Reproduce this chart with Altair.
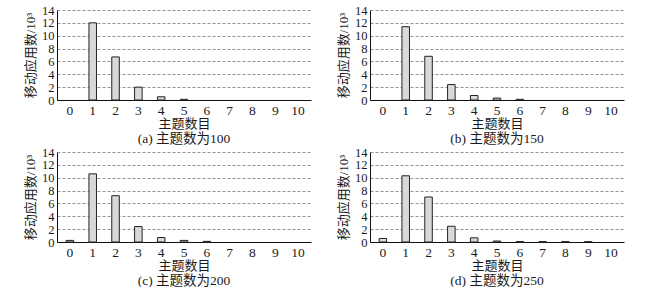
import altair as alt
import pandas as pd

topics = list(range(11))
panel_titles = ["(a) 主题数为100", "(b) 主题数为150", "(c) 主题数为200", "(d) 主题数为250"]
vals_100 = [0.0, 12.0, 6.7, 2.0, 0.5, 0.1, 0.0, 0.0, 0.0, 0.0, 0.0]
vals_150 = [0.0, 11.4, 6.8, 2.4, 0.7, 0.3, 0.1, 0.0, 0.0, 0.0, 0.0]
vals_200 = [0.25, 10.6, 7.2, 2.4, 0.7, 0.25, 0.1, 0.0, 0.0, 0.0, 0.0]
vals_250 = [0.55, 10.3, 7.0, 2.45, 0.65, 0.15, 0.05, 0.05, 0.05, 0.05, 0.0]
all_vals = [vals_100, vals_150, vals_200, vals_250]
y_ticks = [0, 2, 4, 6, 8, 10, 12, 14]

FONT = "Liberation Serif, Noto Sans CJK SC"
INK = "#1a1a1a"


def panel(title, vals):
    df = pd.DataFrame({"topic": topics, "value": vals})
    return (
        alt.Chart(df)
        .transform_filter("datum.value > 0")
        .mark_bar(fill="#d9d9d9", stroke="#222", strokeWidth=1)
        .encode(
            x=alt.X(
                "topic:O",
                title="主题数目",
                scale=alt.Scale(domain=topics, paddingInner=0.67, paddingOuter=0.4),
                axis=alt.Axis(labelAngle=0, tickSize=0, labelPadding=3,
                              titlePadding=1, domainColor="#111", grid=False,
                              labelFontSize=13.5),
            ),
            y=alt.Y(
                "value:Q",
                title="移动应用数/10³",
                scale=alt.Scale(domain=[0, 14], nice=False),
                axis=alt.Axis(values=y_ticks, tickSize=0, labelPadding=3,
                              titlePadding=4, grid=True, gridDash=[3, 2],
                              gridColor="#777", gridWidth=0.8,
                              domainColor="#111", labelOverlap=False,
                              labelFontSize=12.5),
            ),
        )
        .properties(
            width=254,
            height=90,
            title=alt.TitleParams(title, orient="bottom", fontSize=13.5,
                                  fontWeight="normal", font=FONT, color=INK,
                                  offset=1),
        )
    )


charts = [panel(t, v) for t, v in zip(panel_titles, all_vals)]

chart = (
    alt.concat(*charts, columns=2, spacing={"row": 1, "column": 26})
    .properties(padding={"left": 24, "top": 4, "right": 5, "bottom": 0})
    .configure_view(stroke=None)
    .configure_axis(labelFont=FONT, titleFont=FONT,
                    titleFontSize=13, titleFontWeight="normal",
                    labelColor=INK, titleColor=INK)
)

chart.save("out.html", embed_options={"renderer": "svg", "actions": False})
